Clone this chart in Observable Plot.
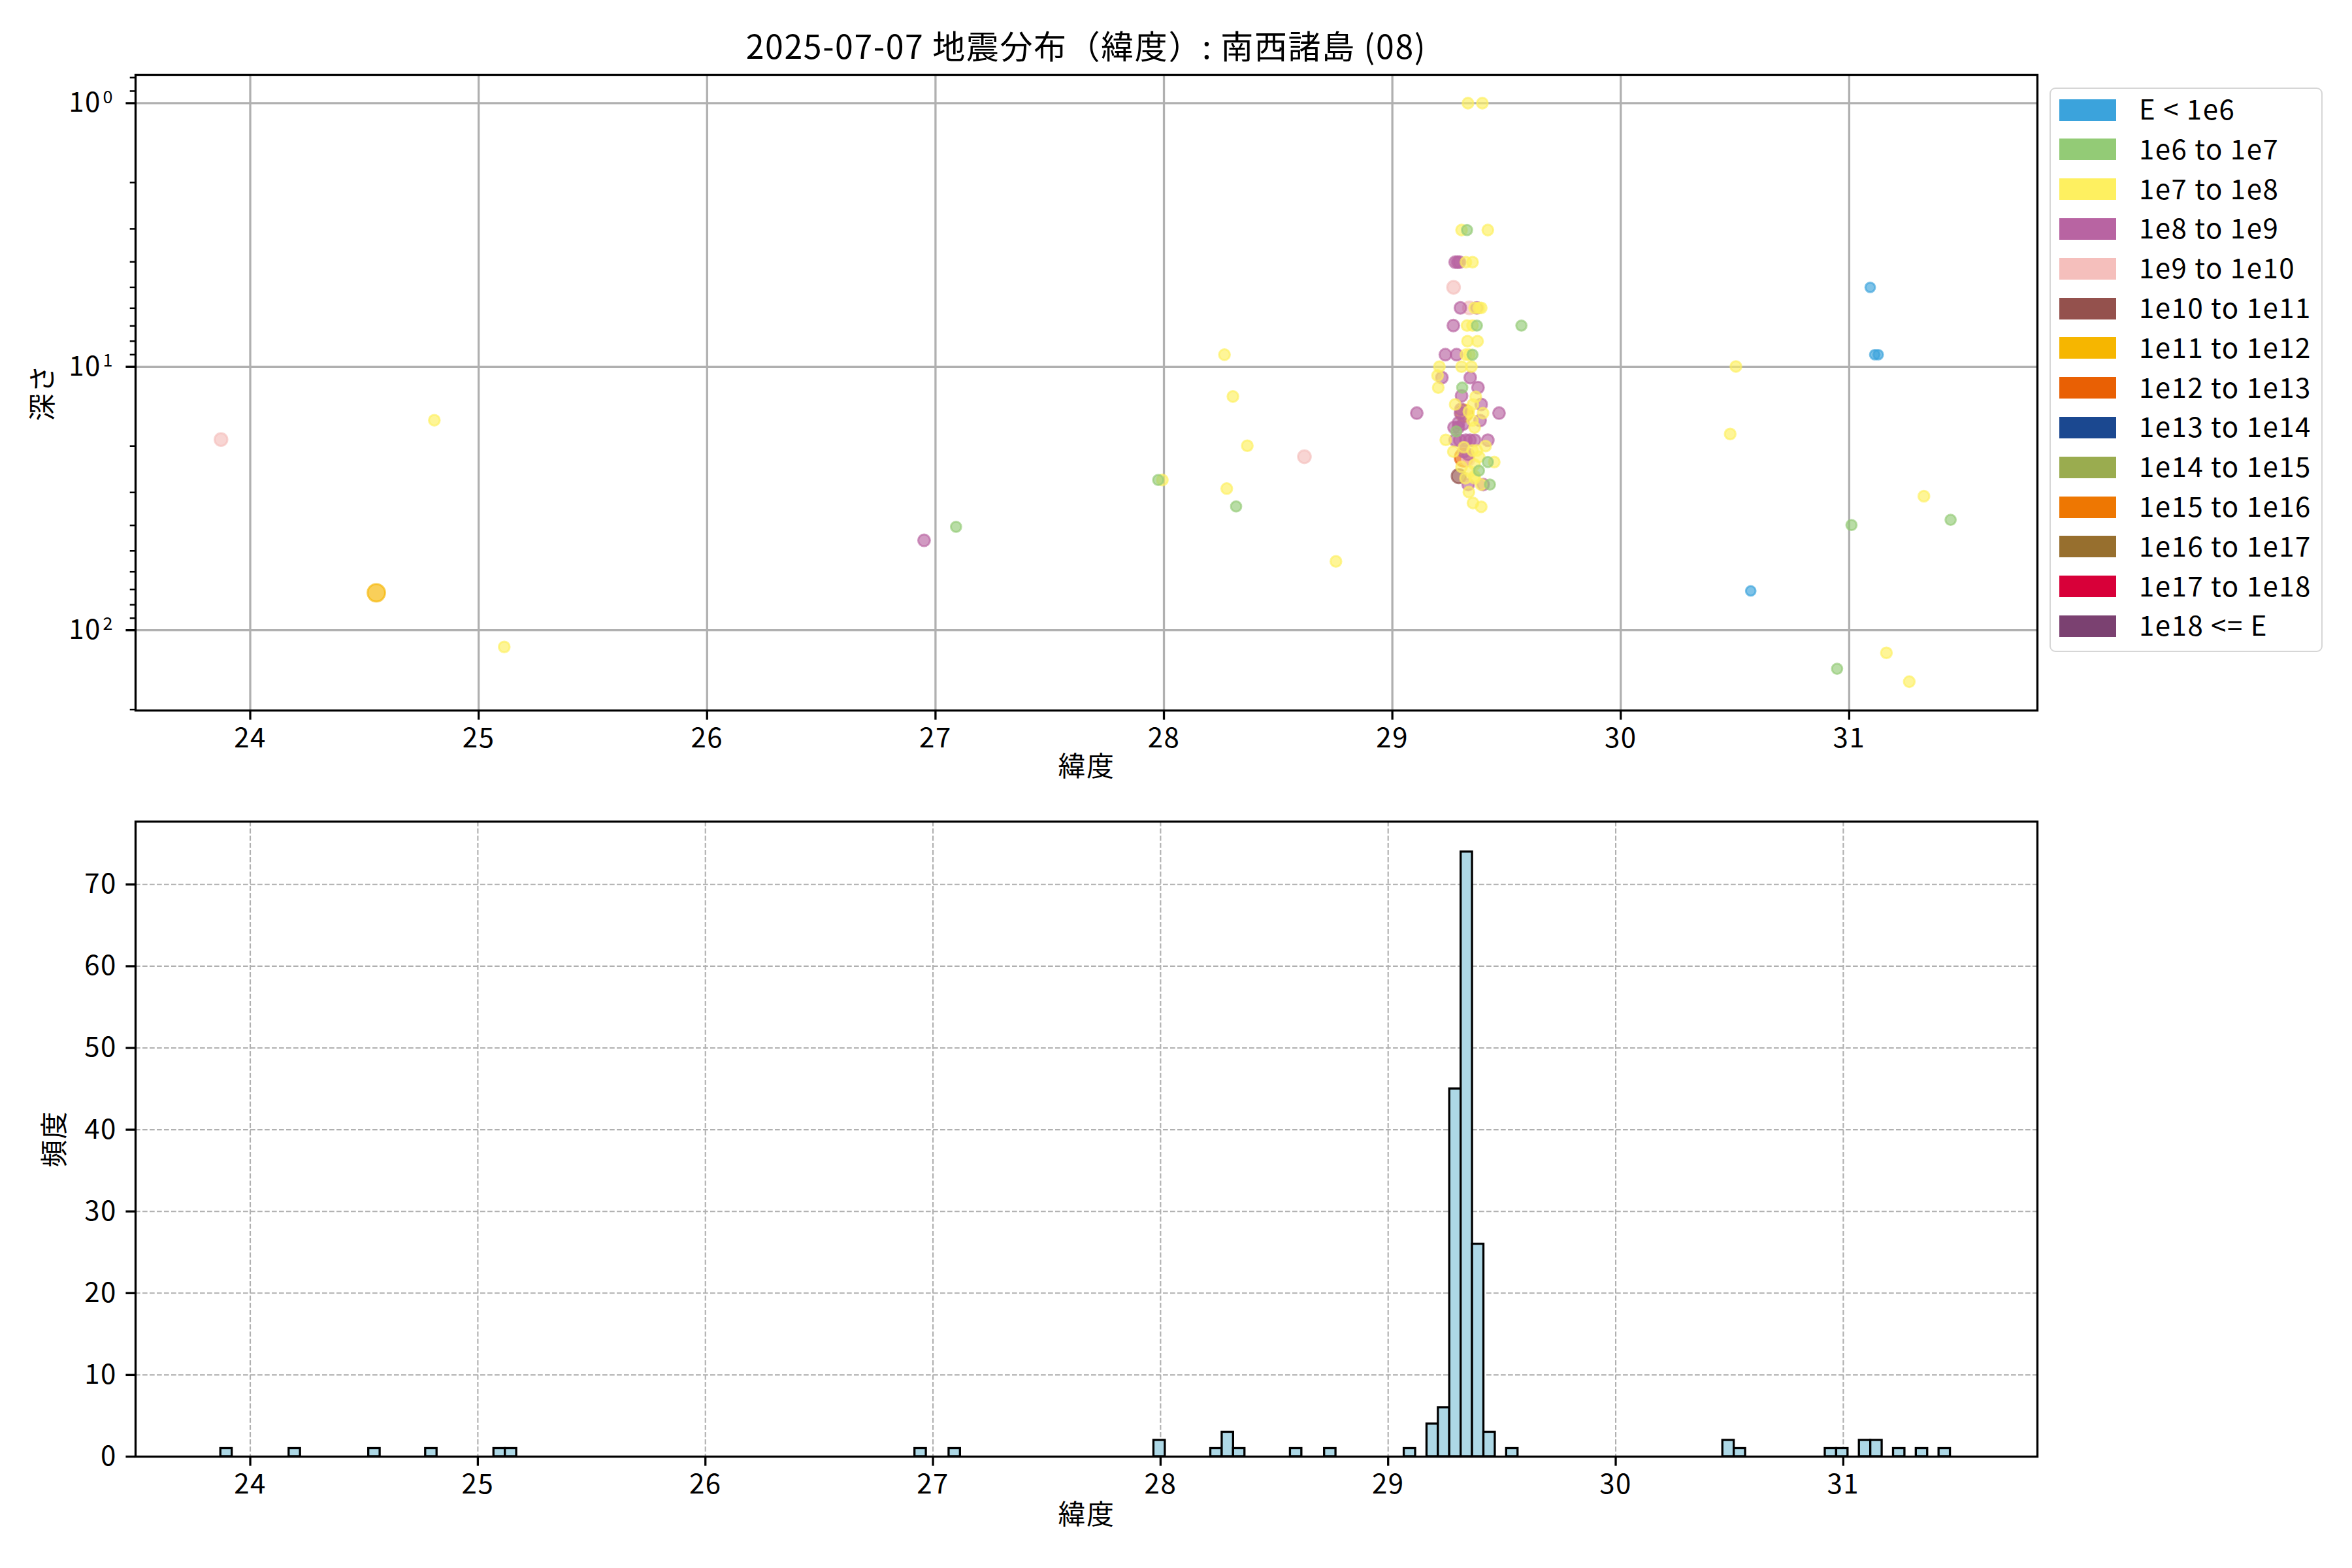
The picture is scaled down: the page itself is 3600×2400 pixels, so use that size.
<!DOCTYPE html>
<html><head><meta charset="utf-8">
<script src="https://cdn.jsdelivr.net/npm/d3@7"></script>
<script src="https://cdn.jsdelivr.net/npm/@observablehq/plot@0.6"></script>
<style>
body{margin:0;background:#fff;}
#fig{position:relative;width:3600px;height:2400px;background:#fff;font-family:'Noto Sans CJK JP','Noto Sans',sans-serif;overflow:hidden;color:#000}
#fig svg{position:absolute;left:0}
.title{position:absolute;left:207px;width:2911px;top:43px;text-align:center;font-size:50px;line-height:50px;white-space:pre;letter-spacing:1.6px}
.legend{position:absolute;left:3137px;top:134px;width:418px;height:864px;box-sizing:border-box;border:2.7px solid #d6d6d6;border-radius:9px;background:rgba(255,255,255,0.8)}
.sw{position:absolute;left:13px;width:87px;height:33px}
.lt{position:absolute;left:135px;font-size:42px;line-height:42px;white-space:pre;letter-spacing:1.5px}
</style></head><body><div id="fig"></div>
<script>
// ---------- data ----------
const titleText = "2025-07-07 地震分布（緯度）: 南西諸島 (08)";
const xLabel = "緯度", depthLabel = "深さ", countLabel = "頻度";

const classLabels = ["E < 1e6","1e6 to 1e7","1e7 to 1e8","1e8 to 1e9","1e9 to 1e10","1e10 to 1e11","1e11 to 1e12","1e12 to 1e13","1e13 to 1e14","1e14 to 1e15","1e15 to 1e16","1e16 to 1e17","1e17 to 1e18","1e18 <= E"];
const classColors = ["#3ba3dc","#93cb76","#fef060","#b864a2","#f5bfbc","#94514d","#f6b600","#e96004","#1b4890","#9aac4f","#ee7702","#976f2e","#d80039","#7b4171"];

// scatter: latitude, depth (km), energy class index
const eqLat = [23.872,24.552,24.806,25.112,26.95,27.09,27.993,27.975,28.265,28.302,28.365,28.615,28.275,28.316,28.753,29.107,29.467,30.504,30.479,31.092,31.112,31.127,31.327,31.444,31.01,30.569,31.163,30.947,31.263,
  29.331,29.394,29.303,29.327,29.418,29.275,29.286,29.294,29.322,29.351,29.268,29.298,29.337,29.37,29.36,29.379,29.389,29.267,29.327,29.351,29.37,29.565,29.329,29.373,29.232,29.281,29.322,29.337,29.351,29.206,29.303,29.346,29.198,29.217,29.341,29.201,29.306,29.375,29.303,29.365,29.275,29.389,29.353,
  29.300,29.315,29.298,29.335,29.397,29.384,29.351,29.29,29.31,29.27,29.289,29.36,29.28,29.234,29.275,29.295,29.322,29.34,29.36,29.418,29.408,29.313,29.351,29.37,29.267,29.313,29.332,29.313,29.332,29.418,29.446,29.36,29.38,29.379,29.303,29.34,29.36,29.291,29.32,29.36,29.332,29.398,29.389,29.427,29.335,29.353,29.389];
const eqDepth = [18.9,72.1,15.96,115.7,45.6,40.5,26.9,26.9,9.0,12.97,19.95,21.96,29.0,33.9,54.8,15.0,15.0,9.98,18.0,5.0,9.0,9.0,31.0,38.1,39.9,70.9,121.8,140,156.7,
  1.0,1.0,3.03,3.03,3.03,4.01,4.01,4.01,4.01,4.01,5.0,5.98,5.98,5.98,5.98,5.98,5.98,6.98,6.98,6.98,6.98,6.98,8.0,8.0,9.0,9.0,9.0,9.0,9.0,10.0,10.0,10.0,10.8,11.0,11.0,12.0,12.0,12.0,12.9,13.0,13.9,13.9,13.9,
  14.5,15.0,15.0,14.8,15.0,16.0,16.0,16.3,16.5,17.0,17.0,17.0,17.6,18.95,19.0,19.0,19.0,19.0,19.0,19.0,20.0,20.2,20.8,20.8,21.0,21.0,21.5,22.1,22.5,23.0,23.0,23.5,22.0,24.8,24.0,25.0,26.0,26.0,26.5,26.5,28.0,28.0,28.0,28.0,29.9,32.9,34.0];
const eqClass = [4,6,2,2,3,1,2,1,2,2,2,4,2,1,2,3,3,2,2,0,0,0,2,1,1,0,2,1,2,
  2,2,2,1,2,3,3,3,2,2,4,3,4,3,2,2,2,3,2,2,1,1,2,2,3,3,2,2,1,2,2,2,2,3,3,2,1,3,3,2,2,3,2,
  3,6,3,2,2,3,2,3,3,3,3,2,1,2,3,3,3,3,3,3,2,2,2,2,2,3,3,7,4,1,2,2,2,1,2,2,2,5,2,2,3,3,2,1,2,2,2];

// histogram: bin left edge (latitude) and count
const histLat = [23.87,24.17,24.52,24.77,25.07,25.12,26.92,27.07,27.97,28.22,28.27,28.32,28.57,28.72,29.07,29.17,29.22,29.27,29.32,29.37,29.42,29.52,30.47,30.52,30.92,30.97,31.07,31.12,31.22,31.32,31.42];
const histCount = [1,1,1,1,1,1,1,1,2,1,3,1,1,1,1,4,6,45,74,26,3,1,2,1,1,1,2,2,1,1,1];
const binWidth = 0.05;

const latTicks = [24,25,26,27,28,29,30,31];
const depthTicks = [1,10,100];
const depthExponents = ["0","1","2"];
const depthMinorTicks = [0.8,0.9,2,3,4,5,6,7,8,9,20,30,40,50,60,70,80,90,200];
const countTicks = [0,10,20,30,40,50,60,70];

// ---------- styles ----------
const dotRadius = [7.4,7.9,8.3,9.0,9.8,11.0,13.4,14,14.5,15,15.5,16,16.5,17];
const FONT = "'Noto Sans CJK JP','Noto Sans',sans-serif";
const GRID = "#b0b0b0";
const baseStyle = {fontSize:"42px", fontFamily:FONT, background:"transparent", color:"#000", overflow:"visible", letterSpacing:"1.5px"};

const fig = document.getElementById("fig");
const idx = d3.range(eqLat.length);

const topPlot = Plot.plot({
  width:3600, height:1240,
  marginTop:114, marginBottom:153, marginLeft:207, marginRight:482,
  style:baseStyle,
  x:{domain:[23.498,31.824]},
  y:{type:"log", domain:[0.7805,201.6], reverse:true},
  r:{type:"identity"},
  color:{domain:classLabels, range:classColors},
  marks:[
    Plot.gridX(latTicks,{stroke:GRID, strokeOpacity:1, strokeWidth:3.3}),
    Plot.gridY(depthTicks,{stroke:GRID, strokeOpacity:1, strokeWidth:3.3}),
    Plot.dot(idx,{x:i=>eqLat[i], y:i=>eqDepth[i], r:i=>dotRadius[eqClass[i]],
      fill:i=>classLabels[eqClass[i]], stroke:i=>classLabels[eqClass[i]],
      fillOpacity:0.65, strokeOpacity:0.65, strokeWidth:3}),
    Plot.frame({stroke:"#000", strokeWidth:3.3}),
    Plot.axisX({ticks:latTicks, tickSize:14.6, tickPadding:12, strokeWidth:3.3, tickFormat:d=>String(d), label:null}),
    Plot.axisY({ticks:depthMinorTicks, tickSize:8.3, strokeWidth:2.5, tickFormat:()=>"", label:null}),
    Plot.axisY({ticks:depthTicks, tickSize:14.6, tickPadding:38, strokeWidth:3.3, tickFormat:()=>"10", label:null}),
    Plot.text(depthTicks,{y:d=>d, text:(d,i)=>depthExponents[i], frameAnchor:"left", textAnchor:"start", dx:-50, dy:-9, fontSize:27}),
    Plot.text([xLabel],{frameAnchor:"bottom", dy:100, fontSize:42}),
    Plot.text([depthLabel],{frameAnchor:"left", textAnchor:"middle", rotate:-90, dx:-141, fontSize:42})
  ]
});
topPlot.style.top = "0px";
fig.appendChild(topPlot);

const hIdx = d3.range(histLat.length);
const bottomPlot = Plot.plot({
  width:3600, height:1160,
  marginTop:17, marginBottom:171, marginLeft:207, marginRight:482,
  style:baseStyle,
  x:{domain:[23.496,31.853]},
  y:{domain:[0,77.7]},
  marks:[
    Plot.gridX(latTicks,{stroke:GRID, strokeOpacity:1, strokeWidth:2.1, strokeDasharray:"7.7,3.3"}),
    Plot.gridY(countTicks,{stroke:GRID, strokeOpacity:1, strokeWidth:2.1, strokeDasharray:"7.7,3.3"}),
    Plot.rect(hIdx,{x1:i=>histLat[i], x2:i=>histLat[i]+binWidth, y1:0, y2:i=>histCount[i],
      fill:"#add8e6", stroke:"#000", strokeWidth:3.3}),
    Plot.frame({stroke:"#000", strokeWidth:3.3}),
    Plot.axisX({ticks:latTicks, tickSize:14.6, tickPadding:12, strokeWidth:3.3, tickFormat:d=>String(d), label:null}),
    Plot.axisY({ticks:countTicks, tickSize:14.6, tickPadding:14, strokeWidth:3.3, tickFormat:d=>String(d), label:null}),
    Plot.text([xLabel],{frameAnchor:"bottom", dy:103, fontSize:42}),
    Plot.text([countLabel],{frameAnchor:"left", textAnchor:"middle", rotate:-90, dx:-123, fontSize:42})
  ]
});
bottomPlot.style.top = "1240px";
fig.appendChild(bottomPlot);

// title
const t = document.createElement("div");
t.className = "title"; t.textContent = titleText;
fig.appendChild(t);

// legend
const leg = document.createElement("div");
leg.className = "legend";
classLabels.forEach((lab,i)=>{
  const sw = document.createElement("div");
  sw.className = "sw"; sw.style.top = (15.6 + 60.8*i) + "px"; sw.style.background = classColors[i];
  leg.appendChild(sw);
  const tx = document.createElement("div");
  tx.className = "lt"; tx.style.top = (8 + 60.8*i) + "px"; tx.textContent = lab;
  leg.appendChild(tx);
});
fig.appendChild(leg);
</script></body></html>
